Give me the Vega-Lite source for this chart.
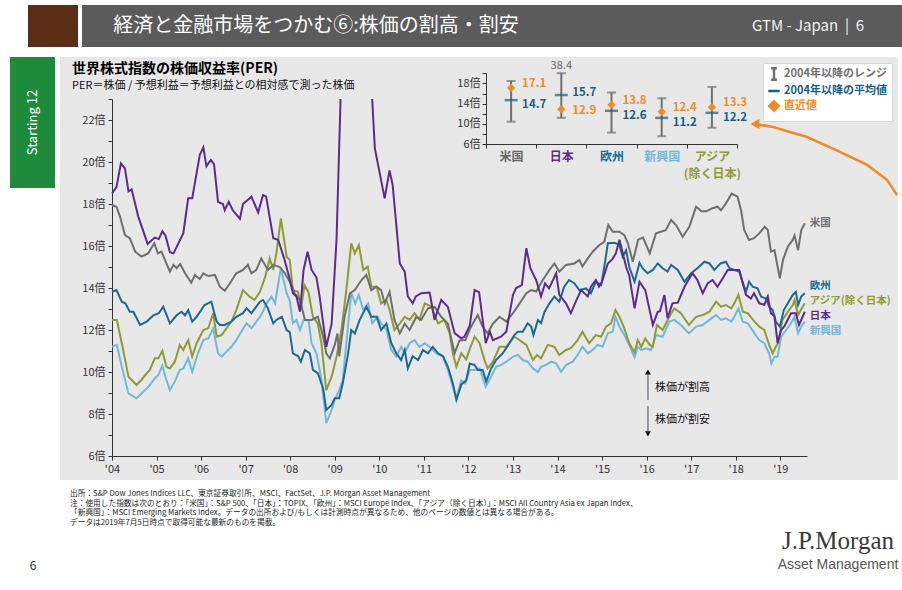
{
"$schema": "https://vega.github.io/schema/vega-lite/v6.json",
"background": "white",
"padding": {"left": 10, "top": 5, "right": 0, "bottom": 0},
"spacing": 10,
"resolve": {"scale": {"color": "independent"}, "legend": {"color": "independent"}},
"config": {"view": {"stroke": null}, "font": "Noto Sans CJK JP"},
"datasets": {
"us": [{"t":2004.0,"v":17.95},{"t":2004.1,"v":17.87},{"t":2004.18,"v":17.4},{"t":2004.29,"v":16.52},{"t":2004.4,"v":16.37},{"t":2004.52,"v":15.73},{"t":2004.66,"v":15.5},{"t":2004.81,"v":15.65},{"t":2004.95,"v":16.13},{"t":2005.03,"v":15.65},{"t":2005.11,"v":15.73},{"t":2005.3,"v":14.78},{"t":2005.38,"v":15.1},{"t":2005.45,"v":14.94},{"t":2005.53,"v":15.14},{"t":2005.64,"v":14.7},{"t":2005.78,"v":14.25},{"t":2005.86,"v":14.62},{"t":2005.97,"v":14.43},{"t":2006.05,"v":14.7},{"t":2006.16,"v":14.57},{"t":2006.31,"v":14.62},{"t":2006.42,"v":14.06},{"t":2006.53,"v":13.87},{"t":2006.64,"v":14.2},{"t":2006.79,"v":14.7},{"t":2006.94,"v":14.86},{"t":2007.05,"v":15.1},{"t":2007.13,"v":14.7},{"t":2007.24,"v":14.86},{"t":2007.35,"v":15.41},{"t":2007.5,"v":14.86},{"t":2007.62,"v":15.1},{"t":2007.77,"v":15.0},{"t":2007.88,"v":14.7},{"t":2007.99,"v":14.3},{"t":2008.1,"v":13.75},{"t":2008.22,"v":13.43},{"t":2008.33,"v":12.48},{"t":2008.48,"v":12.48},{"t":2008.62,"v":12.63},{"t":2008.74,"v":11.68},{"t":2008.81,"v":10.89},{"t":2008.89,"v":10.65},{"t":2009.0,"v":11.29},{"t":2009.06,"v":11.84},{"t":2009.1,"v":10.75},{"t":2009.22,"v":12.63},{"t":2009.34,"v":13.75},{"t":2009.45,"v":13.9},{"t":2009.6,"v":14.38},{"t":2009.71,"v":14.62},{"t":2009.82,"v":13.9},{"t":2009.94,"v":14.06},{"t":2010.04,"v":13.9},{"t":2010.12,"v":13.27},{"t":2010.23,"v":13.82},{"t":2010.34,"v":12.48},{"t":2010.46,"v":11.84},{"t":2010.57,"v":12.3},{"t":2010.68,"v":12.0},{"t":2010.83,"v":12.63},{"t":2010.94,"v":12.48},{"t":2011.09,"v":13.03},{"t":2011.24,"v":13.1},{"t":2011.39,"v":12.63},{"t":2011.54,"v":12.3},{"t":2011.69,"v":10.89},{"t":2011.8,"v":11.5},{"t":2011.93,"v":11.52},{"t":2012.06,"v":12.16},{"t":2012.21,"v":12.71},{"t":2012.32,"v":12.16},{"t":2012.43,"v":11.84},{"t":2012.55,"v":12.3},{"t":2012.7,"v":12.63},{"t":2012.85,"v":12.4},{"t":2013.0,"v":12.8},{"t":2013.15,"v":13.27},{"t":2013.3,"v":13.75},{"t":2013.41,"v":13.9},{"t":2013.52,"v":13.83},{"t":2013.67,"v":14.38},{"t":2013.82,"v":14.86},{"t":2013.93,"v":15.17},{"t":2014.04,"v":14.78},{"t":2014.19,"v":15.1},{"t":2014.38,"v":15.17},{"t":2014.49,"v":15.33},{"t":2014.56,"v":15.02},{"t":2014.68,"v":15.41},{"t":2014.79,"v":15.73},{"t":2014.94,"v":16.05},{"t":2015.05,"v":16.2},{"t":2015.14,"v":17.0},{"t":2015.24,"v":16.68},{"t":2015.39,"v":16.68},{"t":2015.5,"v":16.52},{"t":2015.58,"v":16.13},{"t":2015.69,"v":15.25},{"t":2015.81,"v":16.3},{"t":2015.92,"v":16.4},{"t":2016.07,"v":15.65},{"t":2016.21,"v":16.6},{"t":2016.32,"v":16.68},{"t":2016.43,"v":16.75},{"t":2016.55,"v":17.24},{"t":2016.66,"v":17.0},{"t":2016.81,"v":16.44},{"t":2016.96,"v":16.92},{"t":2017.11,"v":17.87},{"t":2017.23,"v":17.65},{"t":2017.34,"v":17.65},{"t":2017.48,"v":17.8},{"t":2017.59,"v":17.87},{"t":2017.67,"v":17.7},{"t":2017.78,"v":18.03},{"t":2017.91,"v":18.5},{"t":2018.04,"v":18.35},{"t":2018.12,"v":17.7},{"t":2018.19,"v":16.76},{"t":2018.3,"v":16.29},{"t":2018.41,"v":16.37},{"t":2018.53,"v":16.6},{"t":2018.65,"v":16.92},{"t":2018.72,"v":16.76},{"t":2018.79,"v":15.73},{"t":2018.87,"v":15.8},{"t":2018.99,"v":14.46},{"t":2019.06,"v":15.33},{"t":2019.17,"v":15.97},{"t":2019.28,"v":16.29},{"t":2019.32,"v":16.5},{"t":2019.4,"v":15.8},{"t":2019.47,"v":16.75},{"t":2019.55,"v":17.08}],
"jp": [{"t":2004.0,"v":18.5},{"t":2004.1,"v":18.8},{"t":2004.2,"v":19.94},{"t":2004.29,"v":19.7},{"t":2004.37,"v":18.6},{"t":2004.44,"v":18.7},{"t":2004.59,"v":17.4},{"t":2004.8,"v":16.1},{"t":2004.96,"v":16.4},{"t":2005.05,"v":16.33},{"t":2005.13,"v":16.7},{"t":2005.2,"v":16.5},{"t":2005.3,"v":15.7},{"t":2005.38,"v":15.65},{"t":2005.6,"v":16.6},{"t":2005.71,"v":18.27},{"t":2005.8,"v":18.27},{"t":2005.97,"v":20.33},{"t":2006.05,"v":20.7},{"t":2006.12,"v":19.8},{"t":2006.22,"v":20.1},{"t":2006.29,"v":19.9},{"t":2006.38,"v":18.1},{"t":2006.49,"v":18.0},{"t":2006.53,"v":17.7},{"t":2006.62,"v":18.1},{"t":2006.71,"v":17.7},{"t":2006.87,"v":17.3},{"t":2006.94,"v":18.0},{"t":2007.13,"v":18.35},{"t":2007.28,"v":17.6},{"t":2007.39,"v":18.43},{"t":2007.46,"v":18.35},{"t":2007.62,"v":16.37},{"t":2007.73,"v":16.3},{"t":2007.88,"v":15.3},{"t":2007.99,"v":14.4},{"t":2008.06,"v":13.75},{"t":2008.14,"v":13.6},{"t":2008.22,"v":12.87},{"t":2008.3,"v":14.86},{"t":2008.39,"v":15.73},{"t":2008.48,"v":14.86},{"t":2008.59,"v":14.5},{"t":2008.66,"v":13.6},{"t":2008.81,"v":11.2},{"t":2008.93,"v":12.3},{"t":2009.04,"v":16.3},{"t":2009.13,"v":23.0},{"t":2009.5,"v":null},{"t":2009.84,"v":23.0},{"t":2009.9,"v":20.65},{"t":2010.12,"v":18.27},{"t":2010.23,"v":19.6},{"t":2010.3,"v":18.9},{"t":2010.46,"v":15.17},{"t":2010.57,"v":14.78},{"t":2010.64,"v":13.6},{"t":2010.75,"v":13.27},{"t":2010.82,"v":13.6},{"t":2010.94,"v":13.75},{"t":2011.13,"v":13.78},{"t":2011.24,"v":12.48},{"t":2011.39,"v":13.43},{"t":2011.54,"v":13.1},{"t":2011.69,"v":11.85},{"t":2011.84,"v":11.6},{"t":2011.91,"v":11.68},{"t":2012.03,"v":12.2},{"t":2012.14,"v":13.9},{"t":2012.24,"v":13.8},{"t":2012.32,"v":12.48},{"t":2012.39,"v":11.37},{"t":2012.48,"v":11.92},{"t":2012.55,"v":11.52},{"t":2012.73,"v":11.68},{"t":2012.85,"v":11.92},{"t":2013.0,"v":13.67},{"t":2013.07,"v":14.0},{"t":2013.2,"v":14.14},{"t":2013.3,"v":15.9},{"t":2013.39,"v":14.94},{"t":2013.52,"v":14.38},{"t":2013.63,"v":13.59},{"t":2013.72,"v":14.22},{"t":2013.81,"v":13.98},{"t":2013.97,"v":14.7},{"t":2014.04,"v":13.67},{"t":2014.19,"v":13.27},{"t":2014.3,"v":12.8},{"t":2014.41,"v":13.35},{"t":2014.53,"v":13.9},{"t":2014.68,"v":13.6},{"t":2014.75,"v":14.06},{"t":2014.86,"v":14.38},{"t":2014.93,"v":14.06},{"t":2015.0,"v":14.3},{"t":2015.13,"v":15.17},{"t":2015.24,"v":15.4},{"t":2015.31,"v":15.65},{"t":2015.39,"v":16.3},{"t":2015.46,"v":15.7},{"t":2015.54,"v":15.0},{"t":2015.61,"v":14.6},{"t":2015.73,"v":13.03},{"t":2015.84,"v":14.3},{"t":2015.97,"v":13.9},{"t":2016.14,"v":12.24},{"t":2016.25,"v":12.87},{"t":2016.3,"v":12.9},{"t":2016.4,"v":13.67},{"t":2016.47,"v":12.56},{"t":2016.58,"v":13.27},{"t":2016.7,"v":13.3},{"t":2016.85,"v":14.06},{"t":2017.03,"v":14.7},{"t":2017.14,"v":14.38},{"t":2017.26,"v":13.75},{"t":2017.37,"v":14.22},{"t":2017.48,"v":14.38},{"t":2017.59,"v":14.06},{"t":2017.71,"v":14.46},{"t":2017.82,"v":14.86},{"t":2017.97,"v":14.86},{"t":2018.08,"v":14.86},{"t":2018.15,"v":14.3},{"t":2018.23,"v":13.67},{"t":2018.34,"v":13.5},{"t":2018.41,"v":13.75},{"t":2018.53,"v":13.27},{"t":2018.64,"v":13.2},{"t":2018.72,"v":13.6},{"t":2018.79,"v":12.8},{"t":2018.87,"v":12.65},{"t":2018.94,"v":11.37},{"t":2019.02,"v":12.0},{"t":2019.1,"v":12.2},{"t":2019.24,"v":12.8},{"t":2019.35,"v":12.8},{"t":2019.42,"v":12.24},{"t":2019.55,"v":12.87}],
"eu": [{"t":2004.0,"v":13.82},{"t":2004.1,"v":13.9},{"t":2004.22,"v":13.35},{"t":2004.3,"v":13.27},{"t":2004.4,"v":12.87},{"t":2004.48,"v":12.87},{"t":2004.63,"v":12.24},{"t":2004.78,"v":12.4},{"t":2004.93,"v":12.7},{"t":2005.05,"v":12.8},{"t":2005.15,"v":13.11},{"t":2005.3,"v":12.32},{"t":2005.45,"v":12.7},{"t":2005.56,"v":12.87},{"t":2005.64,"v":12.7},{"t":2005.71,"v":12.95},{"t":2005.8,"v":12.4},{"t":2005.9,"v":12.63},{"t":2006.08,"v":13.19},{"t":2006.23,"v":13.35},{"t":2006.31,"v":12.7},{"t":2006.35,"v":12.4},{"t":2006.42,"v":12.24},{"t":2006.53,"v":12.24},{"t":2006.68,"v":12.4},{"t":2006.79,"v":12.63},{"t":2006.94,"v":12.8},{"t":2007.02,"v":13.03},{"t":2007.13,"v":12.8},{"t":2007.32,"v":13.35},{"t":2007.39,"v":13.43},{"t":2007.5,"v":13.03},{"t":2007.62,"v":12.32},{"t":2007.69,"v":12.48},{"t":2007.81,"v":12.63},{"t":2007.92,"v":12.0},{"t":2007.99,"v":11.9},{"t":2008.06,"v":10.89},{"t":2008.18,"v":10.75},{"t":2008.24,"v":10.49},{"t":2008.33,"v":11.05},{"t":2008.44,"v":10.89},{"t":2008.51,"v":10.1},{"t":2008.62,"v":9.94},{"t":2008.74,"v":9.22},{"t":2008.81,"v":8.19},{"t":2008.93,"v":8.43},{"t":2009.0,"v":8.75},{"t":2009.1,"v":8.75},{"t":2009.18,"v":9.46},{"t":2009.3,"v":10.89},{"t":2009.37,"v":12.0},{"t":2009.45,"v":11.84},{"t":2009.56,"v":12.48},{"t":2009.71,"v":13.11},{"t":2009.82,"v":12.63},{"t":2009.94,"v":12.63},{"t":2010.04,"v":12.0},{"t":2010.16,"v":12.3},{"t":2010.27,"v":11.37},{"t":2010.38,"v":10.89},{"t":2010.49,"v":10.57},{"t":2010.57,"v":11.05},{"t":2010.64,"v":10.17},{"t":2010.75,"v":10.75},{"t":2010.87,"v":10.57},{"t":2010.98,"v":11.05},{"t":2011.09,"v":10.89},{"t":2011.2,"v":11.2},{"t":2011.32,"v":10.89},{"t":2011.43,"v":10.75},{"t":2011.54,"v":10.25},{"t":2011.65,"v":9.46},{"t":2011.73,"v":8.67},{"t":2011.84,"v":9.4},{"t":2011.95,"v":9.6},{"t":2012.03,"v":10.4},{"t":2012.14,"v":10.33},{"t":2012.21,"v":10.1},{"t":2012.32,"v":10.1},{"t":2012.4,"v":9.54},{"t":2012.51,"v":10.17},{"t":2012.62,"v":10.57},{"t":2012.77,"v":10.89},{"t":2012.92,"v":11.37},{"t":2013.03,"v":11.76},{"t":2013.11,"v":11.92},{"t":2013.22,"v":11.92},{"t":2013.33,"v":12.32},{"t":2013.41,"v":12.16},{"t":2013.46,"v":11.76},{"t":2013.56,"v":12.48},{"t":2013.63,"v":12.32},{"t":2013.71,"v":12.87},{"t":2013.82,"v":13.27},{"t":2013.93,"v":13.59},{"t":2014.04,"v":13.35},{"t":2014.15,"v":14.06},{"t":2014.26,"v":14.38},{"t":2014.38,"v":14.22},{"t":2014.49,"v":13.9},{"t":2014.64,"v":13.98},{"t":2014.75,"v":13.75},{"t":2014.86,"v":14.3},{"t":2014.98,"v":14.14},{"t":2015.05,"v":15.0},{"t":2015.13,"v":16.13},{"t":2015.28,"v":16.15},{"t":2015.39,"v":16.05},{"t":2015.46,"v":15.49},{"t":2015.54,"v":15.8},{"t":2015.61,"v":15.0},{"t":2015.73,"v":14.3},{"t":2015.84,"v":15.2},{"t":2015.91,"v":14.94},{"t":2016.02,"v":14.7},{"t":2016.14,"v":14.86},{"t":2016.25,"v":15.17},{"t":2016.36,"v":14.94},{"t":2016.47,"v":14.78},{"t":2016.55,"v":15.1},{"t":2016.7,"v":14.86},{"t":2016.85,"v":14.3},{"t":2017.0,"v":14.7},{"t":2017.14,"v":14.94},{"t":2017.3,"v":15.25},{"t":2017.41,"v":15.17},{"t":2017.52,"v":14.86},{"t":2017.66,"v":15.17},{"t":2017.78,"v":15.25},{"t":2017.86,"v":14.94},{"t":2017.97,"v":14.86},{"t":2018.08,"v":14.78},{"t":2018.15,"v":14.3},{"t":2018.23,"v":13.82},{"t":2018.3,"v":14.3},{"t":2018.38,"v":14.06},{"t":2018.49,"v":13.98},{"t":2018.57,"v":13.59},{"t":2018.68,"v":13.5},{"t":2018.75,"v":13.11},{"t":2018.83,"v":12.95},{"t":2018.9,"v":12.4},{"t":2018.99,"v":12.16},{"t":2019.08,"v":12.95},{"t":2019.17,"v":13.27},{"t":2019.28,"v":13.67},{"t":2019.35,"v":13.82},{"t":2019.4,"v":13.19},{"t":2019.47,"v":13.59},{"t":2019.55,"v":13.75}],
"as": [{"t":2004.0,"v":12.48},{"t":2004.11,"v":12.48},{"t":2004.22,"v":11.37},{"t":2004.37,"v":9.78},{"t":2004.55,"v":9.38},{"t":2004.66,"v":9.62},{"t":2004.78,"v":9.94},{"t":2004.85,"v":10.1},{"t":2004.96,"v":10.65},{"t":2005.04,"v":10.65},{"t":2005.13,"v":11.01},{"t":2005.22,"v":10.25},{"t":2005.3,"v":10.17},{"t":2005.41,"v":10.49},{"t":2005.52,"v":11.29},{"t":2005.6,"v":11.05},{"t":2005.71,"v":11.52},{"t":2005.8,"v":10.73},{"t":2005.9,"v":11.37},{"t":2006.05,"v":12.0},{"t":2006.16,"v":12.08},{"t":2006.27,"v":12.8},{"t":2006.35,"v":11.68},{"t":2006.46,"v":11.76},{"t":2006.57,"v":12.08},{"t":2006.68,"v":12.4},{"t":2006.79,"v":12.95},{"t":2006.94,"v":13.9},{"t":2007.09,"v":13.59},{"t":2007.2,"v":13.43},{"t":2007.32,"v":13.82},{"t":2007.44,"v":14.54},{"t":2007.54,"v":15.41},{"t":2007.62,"v":14.86},{"t":2007.69,"v":15.65},{"t":2007.79,"v":17.32},{"t":2007.92,"v":15.49},{"t":2007.99,"v":15.33},{"t":2008.06,"v":13.9},{"t":2008.17,"v":13.83},{"t":2008.25,"v":13.11},{"t":2008.32,"v":14.14},{"t":2008.41,"v":13.8},{"t":2008.51,"v":12.63},{"t":2008.62,"v":12.3},{"t":2008.7,"v":11.37},{"t":2008.81,"v":9.14},{"t":2008.93,"v":9.78},{"t":2009.04,"v":10.73},{"t":2009.15,"v":12.0},{"t":2009.26,"v":13.9},{"t":2009.37,"v":16.13},{"t":2009.45,"v":15.65},{"t":2009.54,"v":16.05},{"t":2009.64,"v":14.86},{"t":2009.74,"v":15.02},{"t":2009.82,"v":14.06},{"t":2009.94,"v":14.06},{"t":2010.04,"v":13.27},{"t":2010.16,"v":13.43},{"t":2010.23,"v":12.95},{"t":2010.34,"v":12.0},{"t":2010.46,"v":12.3},{"t":2010.57,"v":12.63},{"t":2010.68,"v":12.48},{"t":2010.79,"v":12.8},{"t":2010.9,"v":12.48},{"t":2011.02,"v":13.27},{"t":2011.17,"v":13.11},{"t":2011.32,"v":12.32},{"t":2011.46,"v":12.48},{"t":2011.58,"v":11.84},{"t":2011.65,"v":10.89},{"t":2011.73,"v":10.25},{"t":2011.84,"v":10.89},{"t":2011.95,"v":10.6},{"t":2012.03,"v":11.1},{"t":2012.14,"v":11.68},{"t":2012.25,"v":11.37},{"t":2012.36,"v":10.57},{"t":2012.43,"v":10.17},{"t":2012.55,"v":10.49},{"t":2012.7,"v":11.2},{"t":2012.85,"v":11.2},{"t":2013.03,"v":11.68},{"t":2013.15,"v":11.52},{"t":2013.3,"v":11.29},{"t":2013.45,"v":10.57},{"t":2013.54,"v":10.81},{"t":2013.63,"v":10.65},{"t":2013.78,"v":11.29},{"t":2013.93,"v":11.2},{"t":2014.04,"v":10.81},{"t":2014.19,"v":11.05},{"t":2014.3,"v":11.13},{"t":2014.45,"v":11.52},{"t":2014.56,"v":11.92},{"t":2014.71,"v":11.37},{"t":2014.86,"v":11.76},{"t":2014.98,"v":11.68},{"t":2015.09,"v":12.16},{"t":2015.2,"v":12.32},{"t":2015.3,"v":12.95},{"t":2015.39,"v":12.63},{"t":2015.5,"v":12.08},{"t":2015.61,"v":11.37},{"t":2015.73,"v":10.93},{"t":2015.8,"v":11.52},{"t":2015.88,"v":11.2},{"t":2015.97,"v":11.6},{"t":2016.07,"v":11.29},{"t":2016.14,"v":11.2},{"t":2016.23,"v":12.24},{"t":2016.36,"v":12.0},{"t":2016.51,"v":12.63},{"t":2016.62,"v":13.03},{"t":2016.77,"v":12.8},{"t":2016.95,"v":12.24},{"t":2017.11,"v":12.63},{"t":2017.26,"v":12.71},{"t":2017.41,"v":12.87},{"t":2017.56,"v":13.35},{"t":2017.67,"v":13.11},{"t":2017.78,"v":13.19},{"t":2017.9,"v":13.03},{"t":2017.97,"v":13.27},{"t":2018.06,"v":13.67},{"t":2018.16,"v":12.87},{"t":2018.27,"v":12.8},{"t":2018.42,"v":12.4},{"t":2018.53,"v":12.16},{"t":2018.64,"v":12.0},{"t":2018.75,"v":11.29},{"t":2018.83,"v":10.89},{"t":2018.9,"v":11.2},{"t":2018.95,"v":11.37},{"t":2019.05,"v":12.48},{"t":2019.17,"v":12.87},{"t":2019.28,"v":13.19},{"t":2019.32,"v":13.43},{"t":2019.4,"v":12.71},{"t":2019.5,"v":13.11},{"t":2019.55,"v":13.27}],
"em": [{"t":2004.0,"v":11.2},{"t":2004.11,"v":11.29},{"t":2004.22,"v":10.25},{"t":2004.37,"v":8.98},{"t":2004.55,"v":8.75},{"t":2004.66,"v":8.98},{"t":2004.78,"v":9.22},{"t":2004.85,"v":9.38},{"t":2004.96,"v":9.7},{"t":2005.04,"v":9.86},{"t":2005.13,"v":10.3},{"t":2005.22,"v":9.62},{"t":2005.3,"v":9.14},{"t":2005.41,"v":9.54},{"t":2005.52,"v":10.1},{"t":2005.6,"v":10.17},{"t":2005.71,"v":10.65},{"t":2005.8,"v":10.01},{"t":2005.93,"v":10.89},{"t":2006.05,"v":11.52},{"t":2006.16,"v":11.6},{"t":2006.27,"v":12.08},{"t":2006.38,"v":10.89},{"t":2006.46,"v":10.73},{"t":2006.57,"v":10.97},{"t":2006.68,"v":11.2},{"t":2006.79,"v":11.52},{"t":2006.9,"v":11.92},{"t":2007.02,"v":12.32},{"t":2007.13,"v":12.08},{"t":2007.24,"v":12.4},{"t":2007.35,"v":12.71},{"t":2007.47,"v":13.27},{"t":2007.58,"v":13.59},{"t":2007.66,"v":13.27},{"t":2007.79,"v":14.94},{"t":2007.92,"v":13.75},{"t":2007.99,"v":13.4},{"t":2008.06,"v":12.32},{"t":2008.14,"v":12.48},{"t":2008.22,"v":12.0},{"t":2008.3,"v":12.48},{"t":2008.41,"v":12.48},{"t":2008.48,"v":11.37},{"t":2008.59,"v":10.89},{"t":2008.69,"v":9.78},{"t":2008.76,"v":8.51},{"t":2008.81,"v":7.56},{"t":2008.93,"v":8.19},{"t":2009.0,"v":8.67},{"t":2009.1,"v":9.14},{"t":2009.18,"v":9.62},{"t":2009.26,"v":11.37},{"t":2009.37,"v":13.75},{"t":2009.46,"v":13.27},{"t":2009.54,"v":13.67},{"t":2009.64,"v":12.95},{"t":2009.75,"v":13.27},{"t":2009.84,"v":12.32},{"t":2009.96,"v":12.63},{"t":2010.04,"v":12.32},{"t":2010.16,"v":12.0},{"t":2010.27,"v":11.05},{"t":2010.38,"v":10.73},{"t":2010.49,"v":11.2},{"t":2010.57,"v":10.89},{"t":2010.68,"v":11.37},{"t":2010.79,"v":11.52},{"t":2010.9,"v":11.2},{"t":2011.02,"v":11.37},{"t":2011.17,"v":11.13},{"t":2011.28,"v":10.89},{"t":2011.43,"v":10.73},{"t":2011.54,"v":10.1},{"t":2011.65,"v":9.3},{"t":2011.73,"v":8.75},{"t":2011.84,"v":9.6},{"t":2011.93,"v":9.46},{"t":2012.03,"v":10.1},{"t":2012.14,"v":10.1},{"t":2012.25,"v":10.17},{"t":2012.39,"v":9.3},{"t":2012.51,"v":9.78},{"t":2012.62,"v":10.25},{"t":2012.73,"v":10.33},{"t":2012.85,"v":10.49},{"t":2013.0,"v":10.73},{"t":2013.11,"v":10.81},{"t":2013.22,"v":10.57},{"t":2013.33,"v":10.49},{"t":2013.45,"v":10.17},{"t":2013.56,"v":10.0},{"t":2013.63,"v":10.25},{"t":2013.74,"v":10.33},{"t":2013.86,"v":10.49},{"t":2013.97,"v":10.41},{"t":2014.08,"v":10.0},{"t":2014.19,"v":10.33},{"t":2014.34,"v":10.49},{"t":2014.45,"v":10.81},{"t":2014.56,"v":11.2},{"t":2014.68,"v":10.89},{"t":2014.79,"v":11.05},{"t":2014.9,"v":11.29},{"t":2015.01,"v":11.2},{"t":2015.13,"v":11.84},{"t":2015.24,"v":11.92},{"t":2015.3,"v":12.63},{"t":2015.39,"v":12.16},{"t":2015.5,"v":11.76},{"t":2015.61,"v":11.29},{"t":2015.73,"v":10.7},{"t":2015.8,"v":11.2},{"t":2015.88,"v":11.05},{"t":2015.99,"v":11.13},{"t":2016.1,"v":11.05},{"t":2016.21,"v":11.76},{"t":2016.36,"v":11.68},{"t":2016.51,"v":12.4},{"t":2016.62,"v":12.48},{"t":2016.77,"v":12.24},{"t":2016.95,"v":11.84},{"t":2017.11,"v":12.16},{"t":2017.26,"v":12.24},{"t":2017.41,"v":12.48},{"t":2017.56,"v":12.71},{"t":2017.67,"v":12.48},{"t":2017.78,"v":12.56},{"t":2017.9,"v":12.4},{"t":2017.97,"v":12.63},{"t":2018.06,"v":13.03},{"t":2018.16,"v":12.4},{"t":2018.27,"v":12.32},{"t":2018.42,"v":11.84},{"t":2018.53,"v":11.52},{"t":2018.64,"v":11.37},{"t":2018.75,"v":10.89},{"t":2018.8,"v":10.41},{"t":2018.87,"v":10.73},{"t":2018.94,"v":10.73},{"t":2019.02,"v":11.68},{"t":2019.13,"v":12.0},{"t":2019.24,"v":12.32},{"t":2019.32,"v":12.63},{"t":2019.4,"v":11.84},{"t":2019.47,"v":12.16},{"t":2019.55,"v":12.4}],
"oarrow": [{"t":2018.43,"v":21.81},{"t":2018.84,"v":21.67},{"t":2019.6,"v":21.19},{"t":2020.34,"v":20.48},{"t":2020.95,"v":19.86},{"t":2021.4,"v":19.14},{"t":2021.62,"v":18.43}],
"updown": [{"t":2016.03,"from":8.67,"to":10.0},{"t":2016.03,"from":8.38,"to":7.05}],
"annot": [{"t":2016.03,"v":9.24,"label":"株価が割高"},{"t":2016.03,"v":7.71,"label":"株価が割安"}],
"inset": [{"r":"米国","min":10.45,"max":18.46,"mean":14.7,"cur":17.1},{"r":"日本","min":11.2,"max":38.4,"mean":15.7,"cur":12.9},{"r":"欧州","min":8.3,"max":16.2,"mean":12.6,"cur":13.8},{"r":"新興国","min":7.6,"max":15.06,"mean":11.2,"cur":12.4},{"r":"アジア","min":9.27,"max":17.3,"mean":12.2,"cur":13.3}]
},
"vconcat": [
{"hconcat": [
 {"width":18,"height":42,"data":{"values":[{}]},"mark":"text","encoding":{}},
 {"width":50,"height":42,"view":{"fill":"#5a2d14"},"data":{"values":[{}]},"mark":"text","encoding":{}},
 {"width":4,"height":42,"data":{"values":[{}]},"mark":"text","encoding":{}},
 {"width":468,"height":42,"view":{"fill":"#5b5b5b"},"data":{"values":[{"t":"経済と金融市場をつかむ⑥:株価の割高・割安"}]},"mark":{"type":"text","color":"#ffffff","fontSize":20},"encoding":{"text":{"field":"t"}}},
 {"width":164,"height":42,"view":{"fill":"#5b5b5b"},"data":{"values":[{}]},"mark":"text","encoding":{}},
 {"width":188,"height":42,"view":{"fill":"#5b5b5b"},"data":{"values":[{"t":"GTM - Japan\u00a0\u00a0|\u00a0\u00a06"}]},"mark":{"type":"text","color":"#f0f0f0","fontSize":15},"encoding":{"text":{"field":"t"}}}
], "spacing": 0, "bounds": "flush"},
{"hconcat": [
 {"width":45,"height":131,"view":{"fill":"#1e8b3c"},"data":{"values":[{"t":"Starting 12"}]},"mark":{"type":"text","angle":270,"color":"#ffffff","fontSize":13},"encoding":{"text":{"field":"t"}}},
 {
  "width": 838, "height": 423,
  "view": {"fill": "#e8e8e8"},
  "title": {"text": "世界株式指数の株価収益率(PER)", "subtitle": "PER＝株価 / 予想利益＝予想利益との相対感で測った株価", "anchor": "start", "frame": "group", "offset": -34, "dx": 12, "fontSize": 14, "fontWeight": "bold", "color": "#000000", "subtitleFontSize": 11, "subtitleColor": "#111111", "subtitlePadding": 4},
  "layer": [
   {
    "encoding": {
     "x": {"field":"t","type":"quantitative","title":null,"scale":{"domain":[2004,2019.6],"range":[52,747],"nice":false,"zero":false},"axis":{"offset":-24,"values":[2004,2005,2006,2007,2008,2009,2010,2011,2012,2013,2014,2015,2016,2017,2018,2019],"format":"d","labelExpr":"\"'\" + slice(datum.label, 2)","grid":false,"domainColor":"#333333","tickColor":"#333333","tickSize":4,"labelFontSize":11,"labelColor":"#333333","labelPadding":3,"labelFlush":false}},
     "y": {"field":"v","type":"quantitative","title":null,"scale":{"domain":[6,23],"range":[399,42],"nice":false,"zero":false},"axis":{"offset":-52,"values":[6,7,8,9,10,11,12,13,14,15,16,17,18,19,20,21,22,23],"labelExpr":"datum.value % 2 === 0 && datum.value < 23 ? datum.value + '倍' : ''","grid":false,"domainColor":"#333333","tickColor":"#333333","tickSize":4,"labelFontSize":11,"labelColor":"#333333","labelPadding":3}}
    },
    "layer": [
     {"data":{"name":"em"},"layer":[
       {"mark":{"type":"line","color":"#72b8d9","strokeWidth":2},"encoding":{}},
       {"transform":[{"filter":"datum.t > 2019.5"}],"mark":{"type":"text","align":"left","dx":5,"dy":9,"fontSize":10.5,"fontWeight":"bold","color":"#72b8d9"},"encoding":{"text":{"value":"新興国"}}}]},
     {"data":{"name":"as"},"layer":[
       {"mark":{"type":"line","color":"#8e9b36","strokeWidth":2},"encoding":{}},
       {"transform":[{"filter":"datum.t > 2019.5"}],"mark":{"type":"text","align":"left","dx":5,"dy":-2,"fontSize":10.5,"fontWeight":"bold","color":"#8e9b36"},"encoding":{"text":{"value":"アジア(除く日本)"}}}]},
     {"data":{"name":"eu"},"layer":[
       {"mark":{"type":"line","color":"#1c6a93","strokeWidth":2},"encoding":{}},
       {"transform":[{"filter":"datum.t > 2019.5"}],"mark":{"type":"text","align":"left","dx":5,"dy":-7,"fontSize":10.5,"fontWeight":"bold","color":"#1c6a93"},"encoding":{"text":{"value":"欧州"}}}]},
     {"data":{"name":"us"},"layer":[
       {"mark":{"type":"line","color":"#6f6f6f","strokeWidth":2},"encoding":{}},
       {"transform":[{"filter":"datum.t > 2019.5"}],"mark":{"type":"text","align":"left","dx":5,"fontSize":10.5,"fontWeight":"bold","color":"#6f6f6f"},"encoding":{"text":{"value":"米国"}}}]},
     {"data":{"name":"jp"},"layer":[
       {"mark":{"type":"line","color":"#5b2c8c","strokeWidth":2,"invalid":"break-paths-show-domains"},"encoding":{}},
       {"transform":[{"filter":"datum.t > 2019.5"}],"mark":{"type":"text","align":"left","dx":5,"dy":4,"fontSize":10.5,"fontWeight":"bold","color":"#5b2c8c"},"encoding":{"text":{"value":"日本"}}}]},
     {"data":{"name":"updown"},"layer":[
       {"mark":{"type":"rule","color":"#9a9a9a","strokeWidth":2},"encoding":{"y":{"field":"from","type":"quantitative","title":null},"y2":{"field":"to"}}},
       {"mark":{"type":"point","filled":true,"color":"#111111","size":36,"opacity":1},"encoding":{"y":{"field":"to","type":"quantitative","title":null},"shape":{"condition":{"test":"datum.to > datum.from","value":"triangle-up"},"value":"triangle-down"}}}]},
     {"data":{"name":"annot"},"mark":{"type":"text","align":"left","dx":7,"fontSize":11,"color":"#111111"},"encoding":{"text":{"field":"label"}}},
     {"data":{"name":"oarrow"},"layer":[
       {"mark":{"type":"line","color":"#f08a24","strokeWidth":2.5},"encoding":{}},
       {"transform":[{"filter":"datum.t < 2018.5"}],"mark":{"type":"point","shape":"triangle-left","filled":true,"color":"#f08a24","size":110,"opacity":1},"encoding":{}}]}
    ]
   },
   {
    "data": {"name": "inset"},
    "encoding": {
     "x": {"field":"r","type":"nominal","title":null,"sort":null,"scale":{"type":"band","domain":["米国","日本","欧州","新興国","アジア"],"range":[426,677],"paddingInner":0,"paddingOuter":0},"axis":{"orient":"bottom","offset":-336,"tickBand":"extent","labelAngle":0,"labelFontSize":12,"labelFontWeight":"bold","labelPadding":3,"labelBaseline":"top","labelLineHeight":17,"labelExpr":"datum.value === 'アジア' ? ['アジア', '(除く日本)'] : datum.label","labelColor":{"condition":[{"test":"datum.value === '日本'","value":"#5b2c8c"},{"test":"datum.value === '欧州'","value":"#1c6a93"},{"test":"datum.value === '新興国'","value":"#72b8d9"},{"test":"datum.value === 'アジア'","value":"#8e9b36"}],"value":"#666666"},"domainColor":"#333333","tickColor":"#333333","tickSize":4,"grid":false}}
    },
    "layer": [
     {"mark":{"type":"rule","strokeWidth":2},"encoding":{
       "y":{"field":"min","type":"quantitative","title":null,"scale":{"domain":[6,20],"range":[87.3,16.2],"clamp":true,"nice":false,"zero":false},"axis":{"orient":"left","offset":-426,"values":[6,8,10,12,14,16,18,20],"labelExpr":"(datum.value - 6) % 4 === 0 ? datum.value + '倍' : ''","grid":false,"domainColor":"#333333","tickColor":"#333333","tickSize":4,"labelFontSize":11,"labelColor":"#333333","labelPadding":2}},
       "y2":{"field":"max"},
       "color":{"datum":"2004年以降のレンジ","type":"nominal","scale":{"domain":["2004年以降のレンジ","2004年以降の平均値","直近値"],"range":["#707070","#1b5e85","#f08a24"]},
        "legend":{"title":null,"orient":"top-right","offset":6,"fillColor":"#ffffff","strokeColor":"#d6d6d6","padding":5,"labelFontSize":11,"labelFontWeight":"bold","rowPadding":0,"symbolSize":90,"symbolStrokeWidth":2.5,"labelLimit":220,
         "encode":{"symbols":{"update":{"shape":{"signal":"datum.value === '直近値' ? 'diamond' : datum.value === '2004年以降の平均値' ? 'M-1.2,0L1.2,0' : 'M0,-1.2L0,1.2M-0.6,-1.2L0.6,-1.2M-0.6,1.2L0.6,1.2'"},"fill":{"signal":"datum.value === '直近値' ? '#f08a24' : 'transparent'"},"stroke":{"signal":"datum.value === '直近値' ? '#f08a24' : datum.value === '2004年以降の平均値' ? '#1b5e85' : '#707070'"},"strokeWidth":{"value":2.5},"opacity":{"value":1}}},
                   "labels":{"update":{"fill":{"signal":"datum.value === '直近値' ? '#f08a24' : datum.value === '2004年以降の平均値' ? '#1b5e85' : '#707070'"}}}}}}}},
     {"mark":{"type":"tick","color":"#707070","size":9,"thickness":2},"encoding":{"y":{"field":"min","type":"quantitative","title":null}}},
     {"mark":{"type":"tick","color":"#707070","size":9,"thickness":2},"encoding":{"y":{"field":"max","type":"quantitative","title":null}}},
     {"mark":{"type":"tick","size":13,"thickness":2.5},"encoding":{"y":{"field":"mean","type":"quantitative","title":null},"color":{"datum":"2004年以降の平均値","type":"nominal"}}},
     {"mark":{"type":"point","shape":"diamond","filled":true,"size":70,"opacity":1},"encoding":{"y":{"field":"cur","type":"quantitative","title":null},"color":{"datum":"直近値","type":"nominal"}}},
     {"transform":[{"filter":"datum.cur >= datum.mean"}],"mark":{"type":"text","align":"left","dx":11,"dy":-4,"fontSize":11.5,"fontWeight":"bold","color":"#f08a24"},"encoding":{"y":{"field":"cur","type":"quantitative","title":null},"text":{"field":"cur","type":"quantitative","format":".1f"}}},
     {"transform":[{"filter":"datum.cur < datum.mean"}],"mark":{"type":"text","align":"left","dx":11,"dy":2,"fontSize":11.5,"fontWeight":"bold","color":"#f08a24"},"encoding":{"y":{"field":"cur","type":"quantitative","title":null},"text":{"field":"cur","type":"quantitative","format":".1f"}}},
     {"transform":[{"filter":"datum.mean < datum.cur"}],"mark":{"type":"text","align":"left","dx":11,"dy":5,"fontSize":11.5,"fontWeight":"bold","color":"#1b5e85"},"encoding":{"y":{"field":"mean","type":"quantitative","title":null},"text":{"field":"mean","type":"quantitative","format":".1f"}}},
     {"transform":[{"filter":"datum.mean >= datum.cur"}],"mark":{"type":"text","align":"left","dx":11,"dy":-2,"fontSize":11.5,"fontWeight":"bold","color":"#1b5e85"},"encoding":{"y":{"field":"mean","type":"quantitative","title":null},"text":{"field":"mean","type":"quantitative","format":".1f"}}},
     {"transform":[{"filter":"datum.max > 20"}],"mark":{"type":"text","dy":-7,"fontSize":11,"color":"#666666"},"encoding":{"y":{"field":"max","type":"quantitative","title":null},"text":{"field":"max","type":"quantitative","format":".1f"}}}
    ]
   }
  ],
  "resolve": {"scale": {"x":"independent","y":"independent"}, "axis": {"x":"independent","y":"independent"}}
 }
], "spacing": 5, "bounds": "flush", "resolve": {"scale": {"color": "independent"}, "legend": {"color": "independent"}}},
{"hconcat": [
 {"width":46,"height":2,"data":{"values":[{"t":"6"}]},"mark":{"type":"text","fontSize":12,"color":"#333333","dy":69},"encoding":{"text":{"field":"t"}}},
 {"width":28,"height":2,"data":{"values":[{"t":["出所：S&P Dow Jones Indices LLC、東京証券取引所、MSCI、FactSet、J.P. Morgan Asset Management","注：使用した指数は次のとおり：「米国」：S&P 500、「日本」：TOPIX、「欧州」：MSCI Europe Index、「アジア（除く日本）」：MSCI All Country Asia ex Japan Index、","「新興国」：MSCI Emerging Markets Index。データの出所および/もしくは計測時点が異なるため、他のページの数値とは異なる場合がある。","データは2019年7月5日時点で取得可能な最新のものを掲載。"]}]},"mark":{"type":"text","align":"left","baseline":"top","fontSize":7.7,"lineHeight":9.7,"color":"#222222","dy":-7},"encoding":{"text":{"field":"t"}}},
 {"width":696,"height":2,"data":{"values":[{}]},"mark":"text","encoding":{}},
 {"width":116,"height":2,"data":{"values":[{"a":"J.P.Morgan","b":"Asset Management"}]},"layer":[
   {"mark":{"type":"text","font":"Liberation Serif","fontSize":25,"color":"#3a3a3a","baseline":"alphabetic","dy":52},"encoding":{"text":{"field":"a"}}},
   {"mark":{"type":"text","font":"Liberation Sans Narrow, Liberation Sans","fontSize":14,"color":"#555555","baseline":"top","dy":61},"encoding":{"text":{"field":"b"}}}
 ]}
], "spacing": 0, "bounds": "flush"}
]
}
